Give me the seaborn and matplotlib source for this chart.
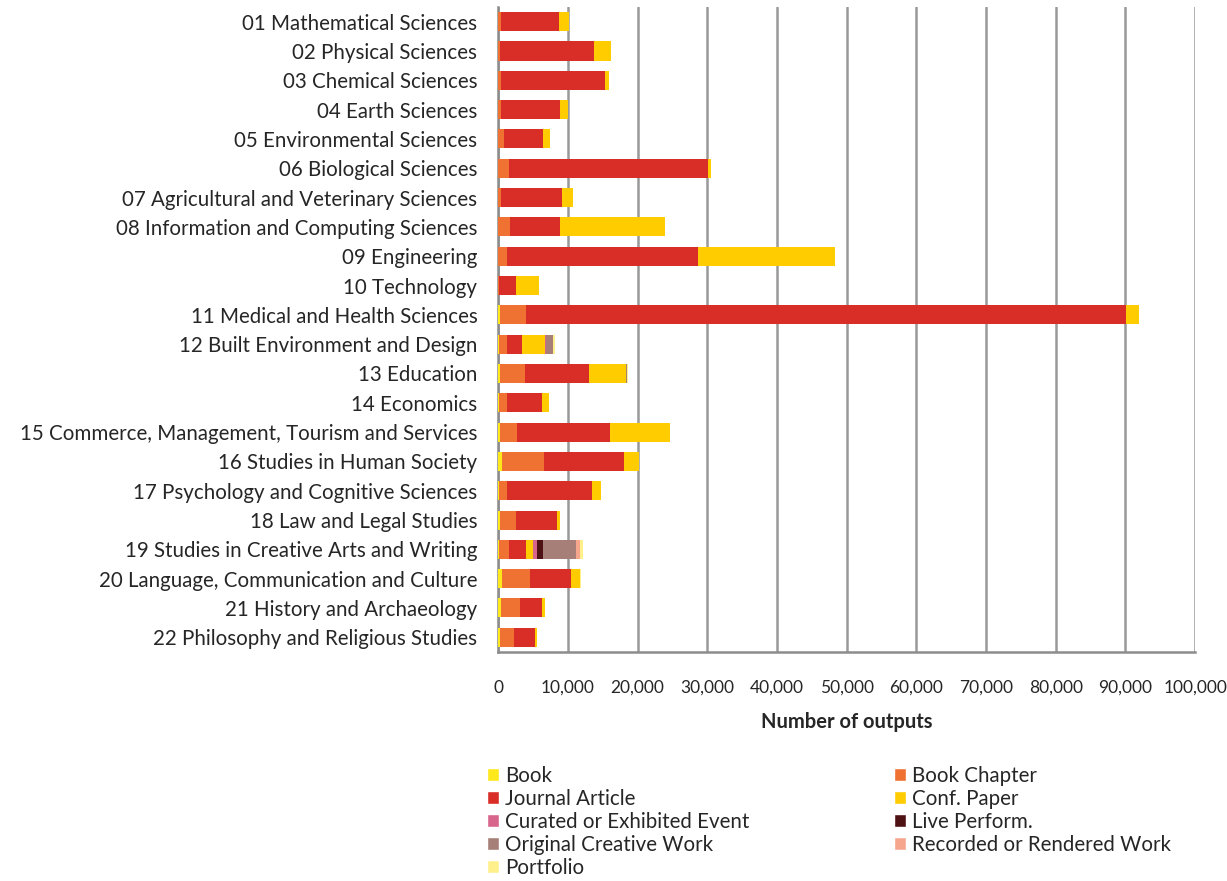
import numpy as np
import pandas as pd
import seaborn as sns
import matplotlib.pyplot as plt
from matplotlib.patches import Patch

# field of research categories
categories = [
    "01 Mathematical Sciences", "02 Physical Sciences", "03 Chemical Sciences",
    "04 Earth Sciences", "05 Environmental Sciences", "06 Biological Sciences",
    "07 Agricultural and Veterinary Sciences", "08 Information and Computing Sciences",
    "09 Engineering", "10 Technology", "11 Medical and Health Sciences",
    "12 Built Environment and Design", "13 Education", "14 Economics",
    "15 Commerce, Management, Tourism and Services", "16 Studies in Human Society",
    "17 Psychology and Cognitive Sciences", "18 Law and Legal Studies",
    "19 Studies in Creative Arts and Writing", "20 Language, Communication and Culture",
    "21 History and Archaeology", "22 Philosophy and Religious Studies",
]

# output counts per type
book =      [0, 0, 0, 0, 0, 0, 0, 0, 0, 0, 200, 100, 200, 100, 200, 600, 100, 300, 100, 500, 400, 300]
chapter =   [400, 200, 400, 400, 800, 1500, 400, 1700, 1300, 100, 3800, 1200, 3700, 1100, 2500, 6000,
             1100, 2200, 1500, 4000, 2700, 2000]
journal =   [8300, 13600, 14900, 8500, 5600, 28600, 8800, 7200, 27400, 2400, 86100, 2100, 9200, 5100,
             13400, 11400, 12300, 6000, 2400, 6000, 3200, 3000]
conf =      [1400, 2400, 600, 1100, 1000, 500, 1600, 15100, 19600, 3400, 1900, 3300, 5300, 1000,
             8500, 2200, 1200, 400, 1000, 1200, 400, 300]
curated =   [0, 0, 0, 0, 0, 0, 0, 0, 0, 0, 0, 100, 0, 0, 0, 0, 0, 0, 600, 0, 0, 0]
live =      [0, 0, 0, 0, 0, 0, 0, 0, 0, 0, 0, 0, 0, 0, 0, 0, 0, 0, 800, 0, 0, 0]
original =  [0, 0, 0, 0, 0, 0, 0, 0, 0, 0, 0, 1000, 100, 0, 0, 0, 0, 0, 4700, 100, 0, 0]
recorded =  [0, 0, 0, 0, 0, 0, 0, 0, 0, 0, 0, 100, 0, 0, 0, 0, 0, 0, 600, 0, 0, 0]
portfolio = [0, 0, 0, 0, 0, 0, 0, 0, 0, 0, 0, 200, 100, 0, 0, 0, 0, 0, 500, 100, 0, 0]

series = ["Book", "Book Chapter", "Journal Article", "Conf. Paper", "Curated or Exhibited Event",
          "Live Perform.", "Original Creative Work", "Recorded or Rendered Work", "Portfolio"]
colors = ["#FFE81C", "#F07232", "#D92D28", "#FFCC00", "#D8668C", "#4E1214", "#A68078",
          "#F7A68E", "#FFF08C"]

df = pd.DataFrame({"Book": book, "Book Chapter": chapter, "Journal Article": journal,
                   "Conf. Paper": conf, "Curated or Exhibited Event": curated,
                   "Live Perform.": live, "Original Creative Work": original,
                   "Recorded or Rendered Work": recorded, "Portfolio": portfolio},
                  index=categories)
cum = df[series].cumsum(axis=1)

sns.set_style("white")
plt.rcParams["font.family"] = ["Lato", "DejaVu Sans"]

fig = plt.figure(figsize=(12.27, 8.81), dpi=100)
ax = fig.add_axes([0.406, 0.26, 0.568, 0.732])

# stacked bars: draw cumulative totals from the outermost segment inwards
for s, c in reversed(list(zip(series, colors))):
    sns.barplot(x=cum[s].values, y=categories, orient="h", color=c, width=0.65,
                saturation=1, linewidth=0, ax=ax, zorder=3)

ax.set_xlim(0, 100000)
ax.set_xticks(np.arange(0, 100001, 10000))
ax.set_xticklabels([f"{v:,}" for v in range(0, 100001, 10000)], fontsize=12.5)
ax.tick_params(axis="x", length=6, width=1.5, color="#8c8c8c", pad=14, direction="out")
ax.set_xlabel("Number of outputs", fontsize=14.5, fontweight="bold", labelpad=12)
ax.set_ylabel("")
ax.set_ylim(len(categories) - 0.5, -0.5)
ax.tick_params(axis="y", length=0, labelsize=14.8, pad=15)
ax.set_yticks(np.arange(-0.5, len(categories), 1), minor=True)
ax.tick_params(axis="y", which="minor", length=6, width=1.5, color="#8c8c8c", direction="out")

ax.grid(axis="x", color="#999999", linewidth=1.8, zorder=0)
ax.set_axisbelow(True)
for side in ["top", "right"]:
    ax.spines[side].set_visible(False)
for side in ["left", "bottom"]:
    ax.spines[side].set_color("#8c8c8c")
    ax.spines[side].set_linewidth(1.8)

handles = [Patch(facecolor=c, label=s) for s, c in zip(series, colors)]
order = [0, 2, 4, 6, 8, 1, 3, 5, 7]
fig.legend([handles[i] for i in order], [series[i] for i in order], ncol=2,
           loc="upper left", bbox_to_anchor=(0.39, 0.14), frameon=False, borderaxespad=0,
           fontsize=14.8, handlelength=0.6, handleheight=0.6, handletextpad=0.3,
           labelspacing=0.15, columnspacing=7.0)

fig.savefig("out.png", dpi=100)
